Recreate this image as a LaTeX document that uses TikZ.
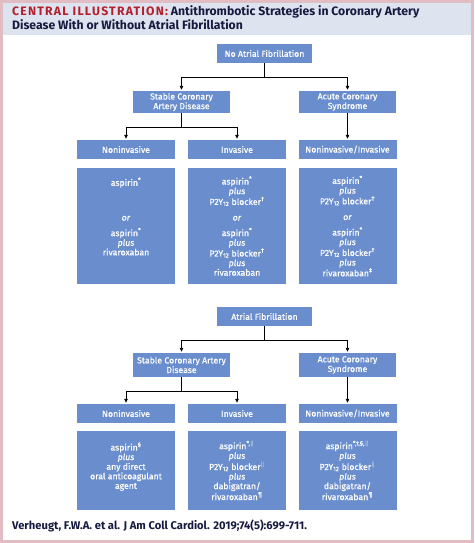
\documentclass[tikz,border=0pt]{standalone}
\usepackage{fontspec}
\setmainfont{Fira Sans}
\newfontfamily\boxfont{Fira Sans}[FakeBold=0.5]
\usetikzlibrary{calc, arrows.meta, positioning}

\definecolor{boxblue}{RGB}{106,142,205}
\definecolor{bandblue}{RGB}{222,227,240}
\definecolor{framepink}{RGB}{226,188,195}
\definecolor{titlered}{RGB}{178,32,44}
\definecolor{titlenavy}{RGB}{22,26,62}

\tikzset{
    catbox/.style={fill=boxblue, text=white, align=center, inner sep=1pt,
        font=\boxfont\fontsize{8.7}{9.6}\selectfont, minimum width=97pt},
    drugbox/.style={catbox, minimum width=98pt},
    arr/.style={-{Triangle[length=4pt,width=3.6pt]}, line width=0.9pt, shorten >=1pt}
}
\newcommand{\plusit}{\textit{plus}}
\newcommand{\orit}{\\[6pt]\textit{or}\\[6pt]}
\newcommand{\ptwoy}{P2Y\textsubscript{12} blocker}
\newcommand{\dbar}{\textsuperscript{$\|$}}

\begin{document}
\begin{tikzpicture}[x=1pt, y=-1pt]
        \useasboundingbox (0,0) rectangle (474,543);
        \fill[white] (0,0) rectangle (474,543);
        \fill[bandblue] (0,0) rectangle (474,35);
        % title
        \node[anchor=base west, inner sep=0pt, font=\fontsize{12.2}{13}\selectfont\bfseries] (title1) at (12,16)
            {\textcolor{titlered}{\addfontfeatures{LetterSpace=10}CENTRAL ILLUSTRATION:} \textcolor{titlenavy}{Antithrombotic Strategies in Coronary Artery}};
        \node[anchor=base west, inner sep=0pt, font=\fontsize{12.2}{13}\selectfont\bfseries, text=titlenavy] (title2) at (12,29.5)
            {Disease With or Without Atrial Fibrillation};

        % no atrial fibrillation
        \node[catbox, minimum width=95pt, minimum height=19pt] (noaf) at (264.5,53.5) {No Atrial Fibrillation};
        \node[catbox, minimum height=22pt] (scadA) at (181.5,102) {Stable Coronary\\Artery Disease};
        \node[catbox, minimum height=22pt] (acsA) at (347.5,102) {Acute Coronary\\Syndrome};
        \node[drugbox, minimum height=19pt] (ninvA) at (126,149.5) {Noninvasive};
        \node[drugbox, minimum height=19pt] (invA) at (237,149.5) {Invasive};
        \node[drugbox, minimum height=19pt] (bothA) at (347.5,149.5) {Noninvasive/Invasive};

        \node[drugbox, minimum height=116pt] (ninvAtx) at (126,226)
            {aspirin\textsuperscript{*}\\ \mbox{}\\ \mbox{}\orit aspirin\textsuperscript{*}\\ \plusit\\ rivaroxaban\\ \mbox{}\\ \mbox{}};
        \node[drugbox, minimum height=116pt] (invAtx) at (237,226)
            {aspirin\textsuperscript{*}\\ \plusit\\ \ptwoy\textsuperscript{†}\orit aspirin\textsuperscript{*}\\ \plusit\\ \ptwoy\textsuperscript{†}\\ \plusit\\ rivaroxaban};
        \node[drugbox, minimum height=116pt] (bothAtx) at (347.5,226)
            {aspirin\textsuperscript{*}\\ \plusit\\ \ptwoy\textsuperscript{†}\orit aspirin\textsuperscript{*}\\ \plusit\\ \ptwoy\textsuperscript{†}\\ \plusit\\ rivaroxaban\textsuperscript{‡}};

        \draw[arr] (noaf.south) -- ++(0,14) -| (scadA.north);
        \draw[arr] (noaf.south) -- ++(0,14) -| (acsA.north);
        \draw[arr] (scadA.south) -- ++(0,14) -| (ninvA.north);
        \draw[arr] (scadA.south) -- ++(0,14) -| (invA.north);
        \draw[arr] (acsA.south) -- (bothA.north);

        % atrial fibrillation
        \node[catbox, minimum width=95pt, minimum height=19pt] (af) at (264.5,316.5) {Atrial Fibrillation};
        \node[catbox, minimum height=24pt] (scadB) at (181.5,365) {Stable Coronary Artery\\Disease};
        \node[catbox, minimum height=24pt] (acsB) at (347.5,365) {Acute Coronary\\Syndrome};
        \node[drugbox, minimum height=19pt] (ninvB) at (126,413.5) {Noninvasive};
        \node[drugbox, minimum height=19pt] (invB) at (237,413.5) {Invasive};
        \node[drugbox, minimum height=19pt] (bothB) at (347.5,413.5) {Noninvasive/Invasive};

        \node[drugbox, minimum height=79pt] (ninvBtx) at (126,470.5)
            {aspirin\textsuperscript{§}\\ \plusit\\ any direct\\ oral anticoagulant\\ agent\\ \mbox{}};
        \node[drugbox, minimum height=79pt] (invBtx) at (237,470.5)
            {aspirin\textsuperscript{*,}\dbar\\ \plusit\\ \ptwoy\dbar\\ \plusit\\ dabigatran/\\ rivaroxaban\textsuperscript{¶}};
        \node[drugbox, minimum height=79pt] (bothBtx) at (347.5,470.5)
            {aspirin\textsuperscript{*,†,§,}\dbar\\ \plusit\\ \ptwoy\dbar\\ \plusit\\ dabigatran/\\ rivaroxaban\textsuperscript{¶}};

        \draw[arr] (af.south) -- ++(0,14) -| (scadB.north);
        \draw[arr] (af.south) -- ++(0,14) -| (acsB.north);
        \draw[arr] (scadB.south) -- ++(0,14) -| (ninvB.north);
        \draw[arr] (scadB.south) -- ++(0,14) -| (invB.north);
        \draw[arr] (acsB.south) -- (bothB.north);

        % citation
        \node[anchor=base west, inner sep=0pt, font=\fontsize{11.2}{13}\selectfont\bfseries, text=titlenavy] (cite) at (12,529)
            {Verheugt, F.W.A. et al. J Am Coll Cardiol. 2019;74(5):699-711.};

        \draw[framepink, line width=3pt] (1.5,1.5) rectangle (472.5,541.5);
\end{tikzpicture}
\end{document}
